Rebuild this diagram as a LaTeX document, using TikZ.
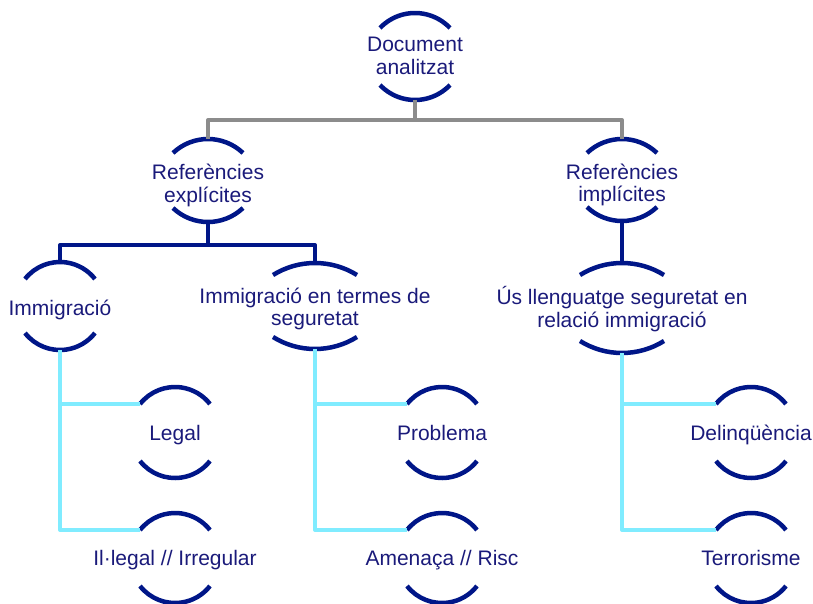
\documentclass[tikz,border=0pt]{standalone}
\usepackage{fontspec}
\setmainfont{Liberation Sans}
\definecolor{navyc}{RGB}{0,22,136}
\definecolor{txtc}{RGB}{26,26,122}
\definecolor{grayc}{RGB}{140,140,140}
\definecolor{cyanc}{RGB}{128,236,255}
\tikzset{
  lbl/.style={text=txtc, font=\fontsize{21}{22.5}\selectfont, align=center, inner sep=0pt},
  capline/.style={draw=navyc, line width=4.5pt},
  grayline/.style={draw=grayc, line width=4pt, line join=round},
  navyline/.style={draw=navyc, line width=4pt, line join=round},
  cyanline/.style={draw=cyanc, line width=4pt, line join=round},
}
% #1 name, #2 cx, #3 cy, #4 half height, #5 half chord, #6 sagitta, #7 text shift, #8 text
\newcommand\capnode[8]{%
  \node[lbl] (#1) at (#2,-#3-#7) {\strut #8\strut};
  \pgfmathsetmacro\capr{(#5*#5+#6*#6)/(2*#6)}%
  \pgfmathsetmacro\capt{asin(#5/\capr)}%
  \coordinate (#1-t) at (#2,-#3+#4);
  \coordinate (#1-b) at (#2,-#3-#4);
  \coordinate (#1-tl) at (#2-#5,-#3+#4-#6);
  \coordinate (#1-bl) at (#2-#5,-#3-#4+#6);
  \draw[capline] (#1-tl) arc[start angle=90+\capt, end angle=90-\capt, radius=\capr];
  \draw[capline] (#1-bl) arc[start angle=270-\capt, end angle=270+\capt, radius=\capr];
}
\begin{document}
\begin{tikzpicture}[x=1pt,y=1pt]
\useasboundingbox (0,0) rectangle (813,-604);
\capnode{doc}{415}{56.5}{43.5}{35}{15}{2}{Document\\analitzat}
\capnode{refE}{208}{180.5}{41.5}{35}{14}{6}{Referències\\explícites}
\capnode{refI}{622}{180}{41}{35}{14}{6}{Referències\\implícites}
\capnode{imm}{60}{306}{44}{35}{17}{5}{Immigració}
\capnode{seg}{315}{306}{43}{42}{12}{4}{Immigració en termes de\\seguretat}
\capnode{us}{622}{308}{45}{42}{12}{2.5}{Ús llenguatge seguretat en\\relació immigració}
\capnode{legal}{175}{432.5}{45.5}{35}{17}{3}{Legal}
\capnode{illegal}{175}{558}{45}{35}{17}{2.5}{Il·legal // Irregular}
\capnode{prob}{442}{432.5}{45.5}{35}{17}{3}{Problema}
\capnode{amen}{442}{558}{45}{35}{17}{2.5}{Amenaça // Risc}
\capnode{delinq}{751}{432.5}{45.5}{35}{17}{3}{Delinqüència}
\capnode{terror}{751}{558}{45}{35}{17}{2.5}{Terrorisme}
% connectors
\draw[grayline] (doc-b) -- ++(0,-20) coordinate (j0);
\draw[grayline] (refE-t) |- (j0) -| (refI-t);
\draw[navyline] (refE-b) -- ++(0,-23) coordinate (j1);
\draw[navyline] (imm-t) |- (j1) -| (seg-t);
\draw[navyline] (refI-b) -- (us-t);
\draw[cyanline] (legal-tl) -| (imm-b);
\draw[cyanline] (illegal-tl) -| (imm-b);
\draw[cyanline] (prob-tl) -| (seg-b);
\draw[cyanline] (amen-tl) -| (seg-b);
\draw[cyanline] (delinq-tl) -| (us-b);
\draw[cyanline] (terror-tl) -| (us-b);
\end{tikzpicture}
\end{document}
